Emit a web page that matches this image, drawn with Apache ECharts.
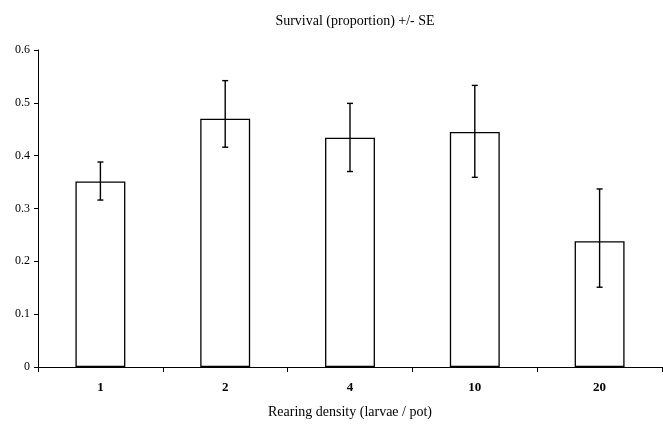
<!DOCTYPE html>
<html>
<head>
<meta charset="utf-8">
<script src="https://cdn.jsdelivr.net/npm/echarts@6/dist/echarts.min.js"></script>
<style>
html,body{margin:0;padding:0;background:#fff;}
#chart{width:663px;height:424px;}
</style>
</head>
<body>
<div id="chart"></div>
<script>
var categories = ['1', '2', '4', '10', '20'];
var survival = [0.351, 0.470, 0.434, 0.445, 0.238];
var errLower = [0.316, 0.416, 0.370, 0.359, 0.151];
var errUpper = [0.388, 0.542, 0.499, 0.533, 0.337];
var yTicks = [0, 0.1, 0.2, 0.3, 0.4, 0.5, 0.6];

var serif = '"Liberation Serif", "DejaVu Serif", serif';
var chart = echarts.init(document.getElementById('chart'));

var errData = categories.map(function (c, i) { return [i, errLower[i], errUpper[i]]; });

chart.setOption({
  animation: false,
  backgroundColor: '#fff',
  title: {
    text: 'Survival (proportion) +/- SE',
    left: 350, top: 9, textAlign: 'center',
    textStyle: { fontFamily: serif, fontSize: 14, fontWeight: 'normal', color: '#000' }
  },
  grid: { left: 38, right: 1, top: 50, bottom: 53 },
  xAxis: {
    type: 'category',
    data: categories,
    name: 'Rearing density (larvae / pot)',
    nameLocation: 'middle',
    nameGap: 38,
    nameTextStyle: { fontFamily: serif, fontSize: 14, color: '#000' },
    axisLine: { lineStyle: { color: '#000', width: 1 } },
    axisTick: { show: true, length: 5, lineStyle: { color: '#000' } },
    axisLabel: { fontFamily: serif, fontSize: 13, fontWeight: 'bold', color: '#000', margin: 14 },
    splitLine: { show: false }
  },
  yAxis: {
    type: 'value',
    min: yTicks[0], max: yTicks[yTicks.length - 1], interval: 0.1,
    axisLine: { show: true, lineStyle: { color: '#000', width: 1 } },
    axisTick: { show: true, length: 4, lineStyle: { color: '#000' } },
    axisLabel: { fontFamily: serif, fontSize: 12, color: '#000', margin: 8 },
    splitLine: { show: false }
  },
  series: [
    {
      type: 'bar',
      data: survival,
      barWidth: '40%',
      itemStyle: { color: '#fff', borderColor: '#000', borderWidth: 1.3 }
    },
    {
      type: 'custom',
      data: errData,
      z: 10,
      renderItem: function (params, api) {
        var x = api.value(0);
        var lo = api.coord([x, api.value(1)]);
        var hi = api.coord([x, api.value(2)]);
        var hw = 3;
        var style = { stroke: '#000', lineWidth: 1.4 };
        return {
          type: 'group',
          children: [
            { type: 'line', shape: { x1: hi[0], y1: hi[1], x2: lo[0], y2: lo[1] }, style: style },
            { type: 'line', shape: { x1: hi[0] - hw, y1: hi[1], x2: hi[0] + hw, y2: hi[1] }, style: style },
            { type: 'line', shape: { x1: lo[0] - hw, y1: lo[1], x2: lo[0] + hw, y2: lo[1] }, style: style }
          ]
        };
      }
    }
  ]
});
</script>
</body>
</html>
